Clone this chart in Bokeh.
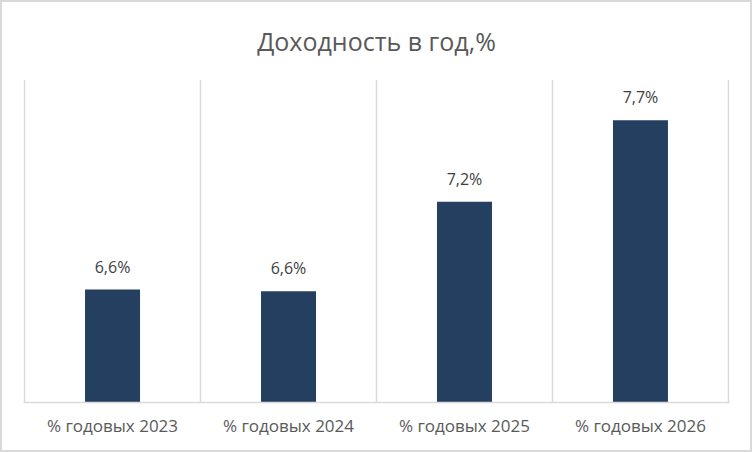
from bokeh.plotting import figure
from bokeh.models import Range1d, FixedTicker, ColumnDataSource, InlineStyleSheet
from bokeh.core.properties import value
from bokeh.embed import file_html
from bokeh.resources import INLINE

title_text = "Доходность в год,%"
categories = ["% годовых 2023", "% годовых 2024", "% годовых 2025", "% годовых 2026"]
values = [6.62, 6.61, 7.18, 7.70]
labels = ["6,6%", "6,6%", "7,2%", "7,7%"]

FONT = "Open Sans"
xs = [i + 0.5 for i in range(len(categories))]
src = ColumnDataSource(dict(x=xs, top=values, lab=labels))

pad = 0.006
p = figure(width=752, height=452, output_backend="svg", toolbar_location=None,
           x_range=Range1d(-pad, len(categories) + pad), y_range=Range1d(5.9, 7.96),
           y_axis_location=None, min_border_left=21, min_border_right=25,
           min_border_top=77, min_border_bottom=52)
p.outline_line_color = None
p.background_fill_color = "white"
p.border_fill_color = "white"
p.stylesheets = [InlineStyleSheet(css=":host { border: 2px solid #d9d9d9; box-sizing: border-box; }")]

p.title.text = title_text
p.title.align = "center"
p.title.vertical_align = "top"
p.title.text_font = FONT
p.title.text_font_style = "normal"
p.title.text_font_size = "25px"
p.title.text_color = "#595959"
p.title.standoff = 40

p.vbar(x="x", top="top", bottom=5.9, width=0.3125, source=src,
       fill_color="#253F60", line_color=None)
p.text(x="x", y="top", text="lab", source=src, text_align="center",
       text_baseline="bottom", y_offset=-12, text_font=value(FONT),
       text_font_size="16px", text_color="#404040")

p.ygrid.visible = False
p.xgrid.ticker = FixedTicker(ticks=list(range(len(categories) + 1)))
p.xgrid.grid_line_color = "#d9d9d9"
p.xgrid.grid_line_width = 1.5

ax = p.xaxis[0]
ax.ticker = FixedTicker(ticks=xs)
ax.major_label_overrides = {x: c for x, c in zip(xs, categories)}
ax.axis_line_color = "#d9d9d9"
ax.axis_line_width = 1.5
ax.major_tick_line_color = None
ax.minor_tick_line_color = None
ax.major_label_standoff = 5
ax.major_label_text_font = FONT
ax.major_label_text_font_size = "17px"
ax.major_label_text_color = "#595959"

open("out.html", "w").write(file_html(p, INLINE))
